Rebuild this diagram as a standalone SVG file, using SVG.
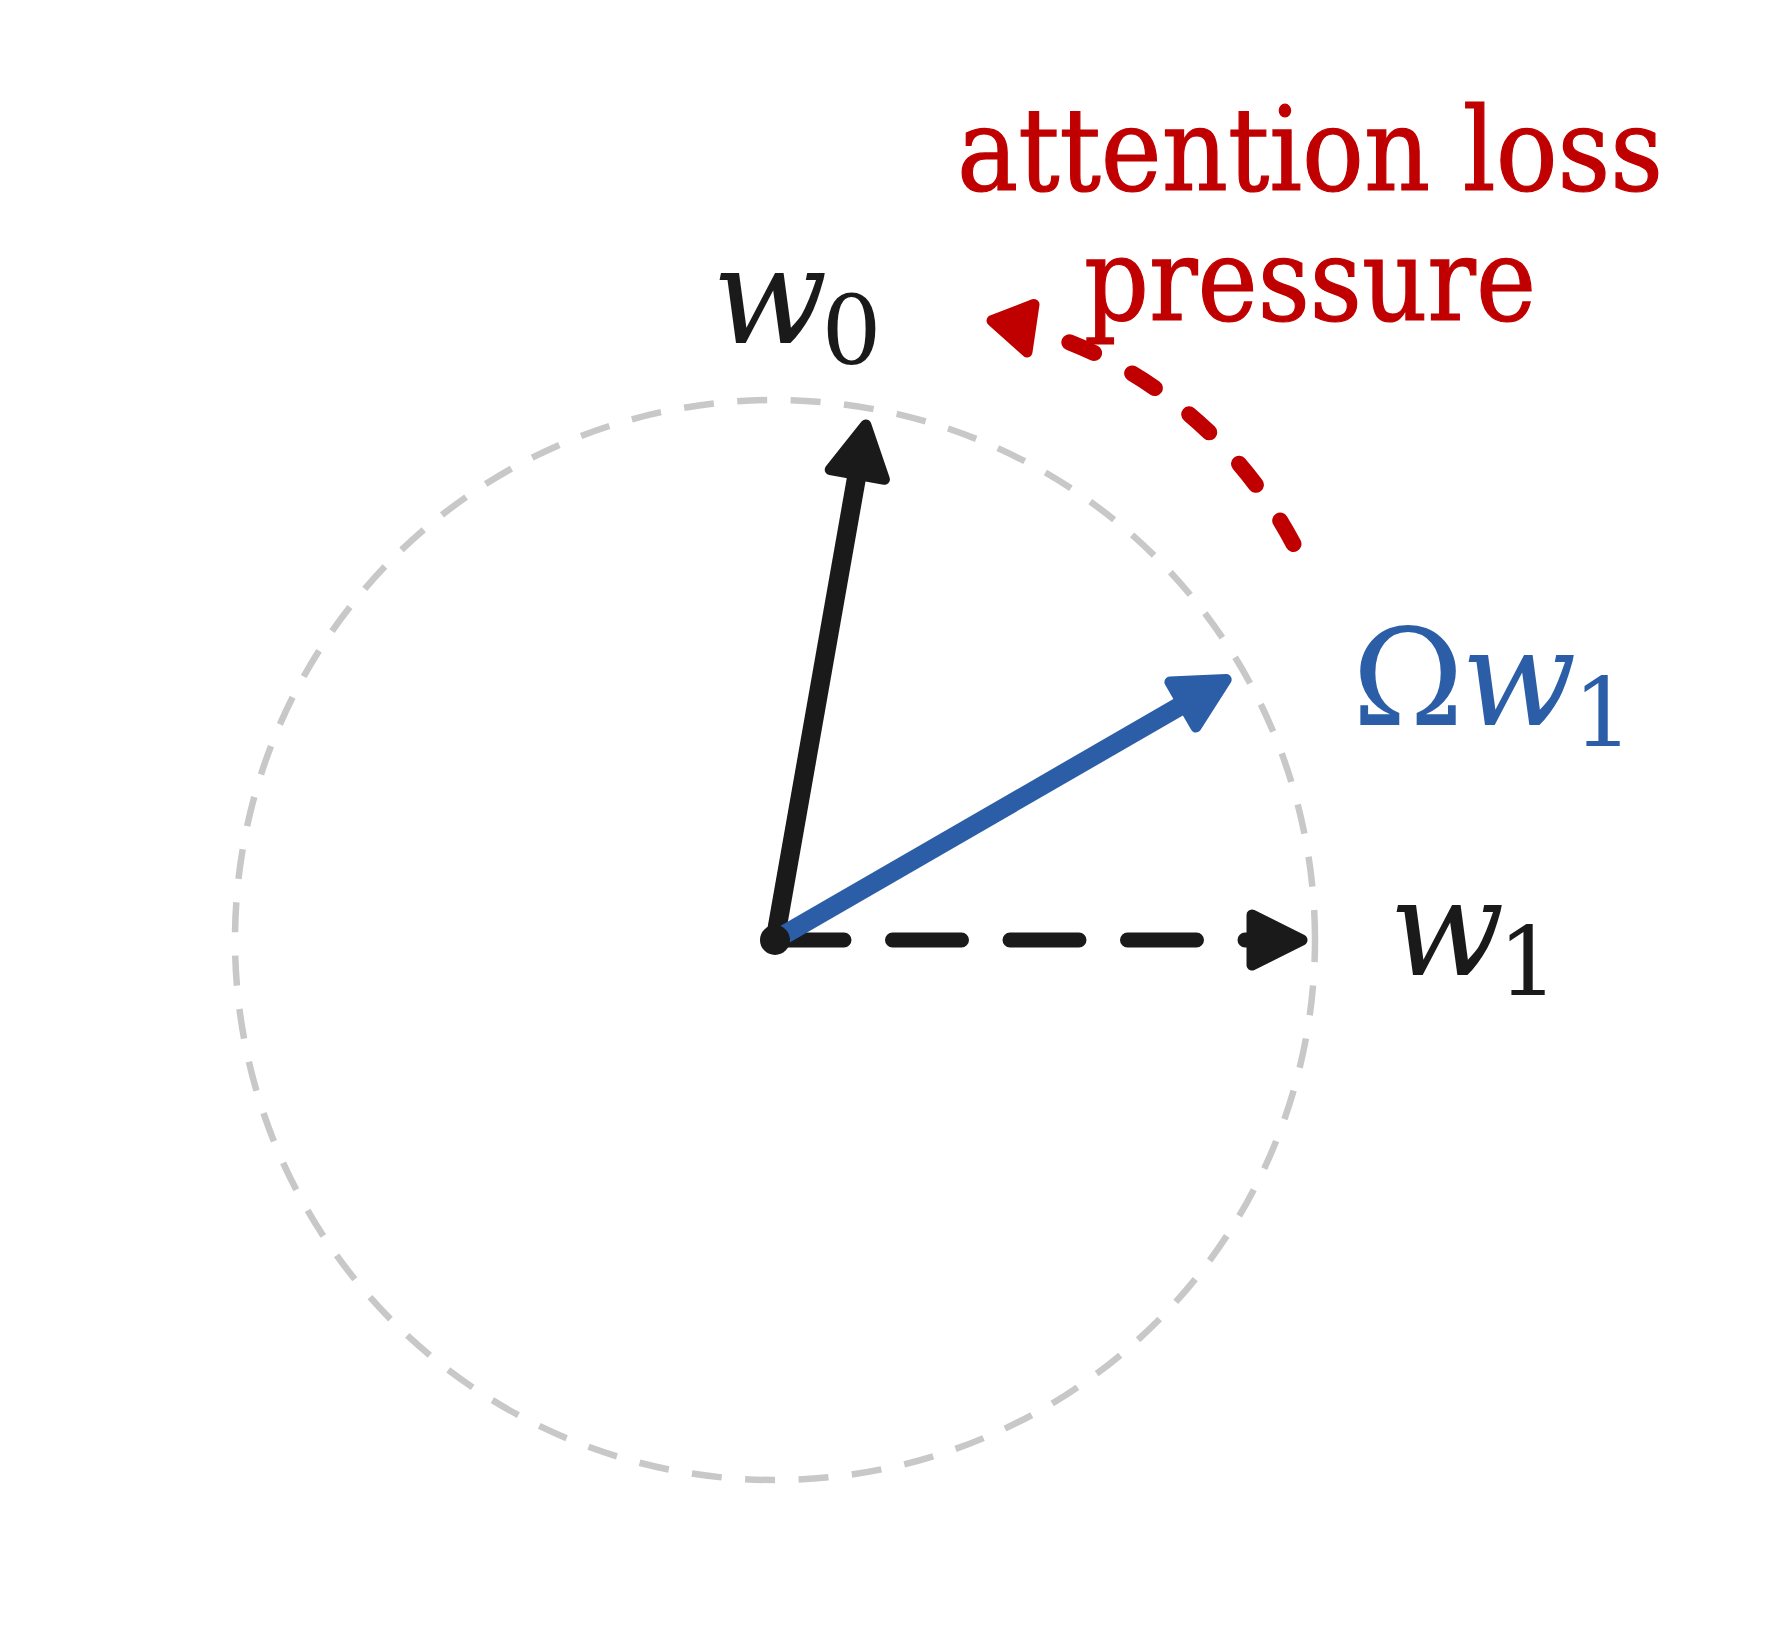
<svg xmlns="http://www.w3.org/2000/svg" width="1775" height="1650" viewBox="0 0 1775 1650">
<style>
.ring{fill:none;stroke:#c8c8c8;stroke-width:6.5;stroke-dasharray:30 23.5}
.blk{stroke:#1a1a1a;fill:#1a1a1a}
.blu{stroke:#2c5ea8;fill:#2c5ea8}
.red{stroke:#c00000;fill:#c00000}
.shaft{fill:none;stroke-width:19;stroke-linecap:butt}
.head{stroke-width:11;stroke-linejoin:round}
.math{font-family:"DejaVu Serif","Liberation Serif",serif;font-size:135px}
.mi{font-style:italic}
.sub{font-size:94.5px;font-style:normal}
.lbl{font-family:"DejaVu Serif Condensed","DejaVu Serif","Liberation Serif",serif;font-stretch:condensed;font-size:116px;fill:#c00000;stroke:#c00000;stroke-width:1.2}
</style>
<rect width="1775" height="1650" fill="#ffffff"/>
<g id="unit-circle">
<path class="ring" d="M1315 940 A540 540 0 1 0 235 940 A540 540 0 1 0 1315 940"/>
</g>
<g id="connectors">
<g id="w1-arrow">
<path d="M775 940 H1252" fill="none" stroke="#1a1a1a" stroke-width="15" stroke-linecap="round" stroke-dasharray="69 48.5"/>
<polygon class="blk head" points="1252,915 1302,940 1252,965"/>
</g>
<g id="w0-arrow">
<line class="blk shaft" x1="775" y1="940" x2="856.8" y2="476"/>
<polygon class="blk head" points="865.8,424.9 884.4,479.3 830.2,469.7"/>
</g>
<g id="omega-w1-arrow">
<line class="blu shaft" x1="775" y1="940" x2="1182.9" y2="704.5"/>
<polygon class="blu head" points="1226.2,679.5 1195.9,727 1169.9,682"/>
</g>
<g id="pressure-arrow">
<path d="M1293.5 544 A437 437 0 0 0 1031.9 329.2" fill="none" stroke="#c00000" stroke-width="16" stroke-linecap="round" stroke-dasharray="27 43.2"/>
<polygon class="red head" points="992,320.7 1034,304.5 1027,352"/>
</g>
</g>
<g id="origin">
<circle cx="775" cy="940" r="15" fill="#1a1a1a"/>
</g>
<g id="label-w0">
<text class="math" fill="#1a1a1a"><tspan class="mi" x="712" y="343">w</tspan><tspan class="sub" x="821.5" y="364">0</tspan></text>
</g>
<g id="label-omega-w1">
<text class="math" fill="#2c5ea8"><tspan x="1352" y="725">Ω</tspan><tspan class="mi" x="1461" y="725">w</tspan><tspan class="sub" x="1573" y="746">1</tspan></text>
</g>
<g id="label-w1">
<text class="math" fill="#1a1a1a"><tspan class="mi" x="1389" y="975">w</tspan><tspan class="sub" x="1498" y="995">1</tspan></text>
</g>
<g id="label-attention">
<text class="lbl" text-anchor="middle"><tspan x="1310" y="190" textLength="706" lengthAdjust="spacingAndGlyphs">attention loss</tspan><tspan x="1310" y="320" textLength="452" lengthAdjust="spacingAndGlyphs">pressure</tspan></text>
</g>
</svg>
